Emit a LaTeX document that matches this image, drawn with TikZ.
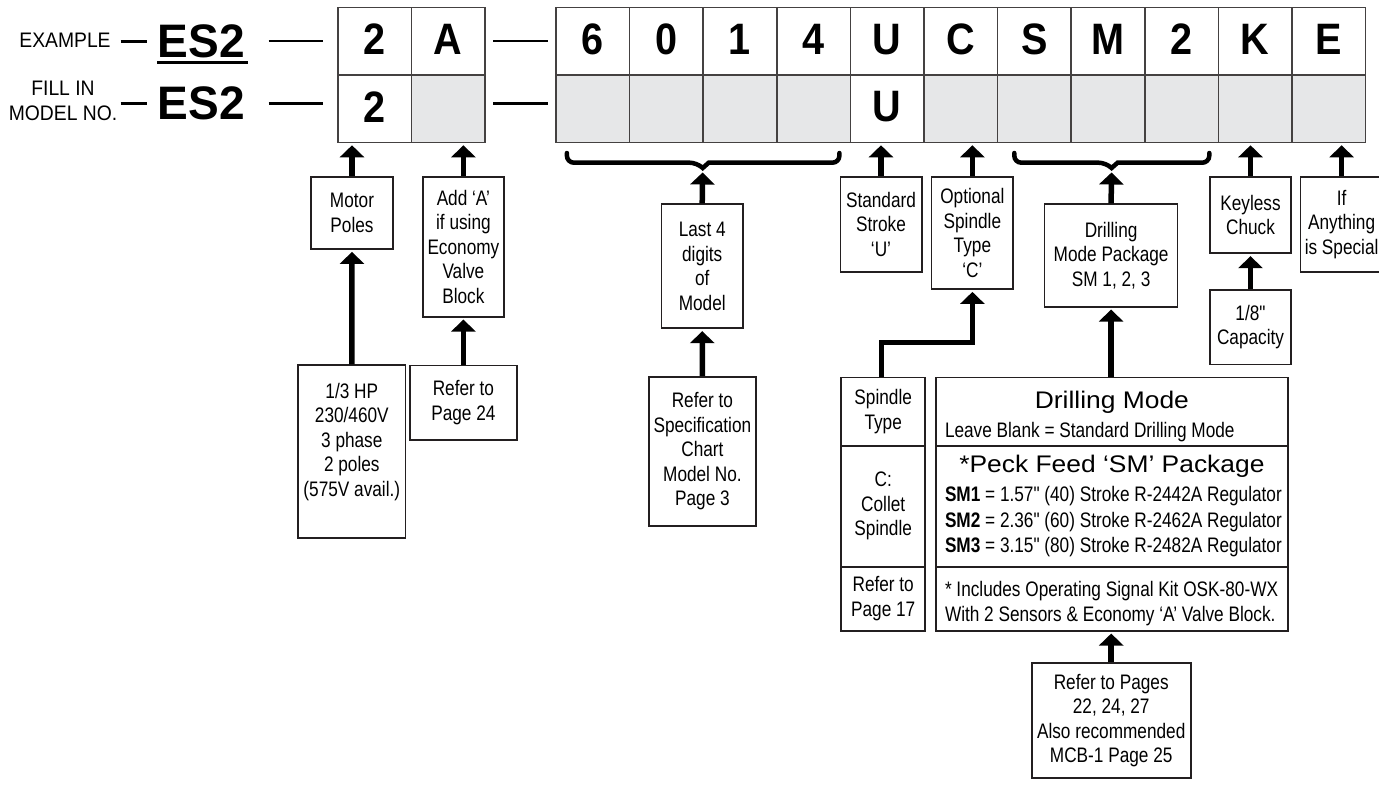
\documentclass[tikz,border=0pt]{standalone}
\usepackage{fontspec}
\setmainfont{Liberation Sans}
\newfontfamily\bodyfont[FakeStretch=0.82,Ligatures=TeXOff]{Liberation Sans}
\newfontfamily\titlefont[FakeStretch=1.1,Ligatures=TeXOff]{Liberation Sans}
\newfontfamily\heavyfont[FakeStretch=0.9]{Liberation Sans}
\newfontfamily\esfont[FakeStretch=0.98]{Liberation Sans}
\newfontfamily\labelfont[FakeStretch=0.92]{Liberation Sans}
\usetikzlibrary{arrows.meta}
\definecolor{cellgray}{HTML}{E6E7E8}
\definecolor{ink}{HTML}{231F20}
\tikzset{
  box/.style={draw=ink, line width=1.7pt, inner sep=0pt, align=center,
    font=\bodyfont\fontsize{21}{24.5}\selectfont},
  txt/.style={inner sep=0pt, align=center, font=\bodyfont\fontsize{21}{24.5}\selectfont},
  ttl/.style={inner sep=0pt, font=\titlefont\fontsize{24}{28}\selectfont},
  lab/.style={inner sep=0pt, align=center, font=\labelfont\fontsize{21}{25}\selectfont},
  big/.style={inner sep=0pt, font=\esfont\bfseries\fontsize{47}{47}\selectfont},
  cell/.style={draw=ink!85, line width=1.6pt, minimum width=73.6pt, minimum height=67.5pt,
    inner sep=0pt, font=\heavyfont\bfseries\fontsize{44}{44}\selectfont},
  arr/.style={line width=5.5pt, -{Triangle[width=24pt,length=12pt]}, shorten >=2pt},
  dashline/.style={line width=2.7pt},
  braceline/.style={line width=4.5pt, line cap=round},
}
\begin{document}
\begin{tikzpicture}[x=1pt,y=-1pt,line join=miter]
\useasboundingbox (0,0) rectangle (1379,785);

% left labels
\node[lab] (ex) at (65,40.5) {EXAMPLE};
\node[lab] (fill) at (63,100.8) {FILL IN\\MODEL NO.};
\node[big] (es1) at (201.5,41.7) {ES2};
\node[big] (es2) at (201.5,103.5) {ES2};
\coordinate (ul1) at (157.3,62.7); \coordinate (ul2) at (248.3,62.7);
\draw[line width=3pt] (ul1) -- (ul2);
\coordinate (sd1a) at (120.7,41.7); \coordinate (sd1b) at (146.7,41.7);
\coordinate (sd2a) at (120.7,103.3); \coordinate (sd2b) at (146.7,103.3);
\draw[dashline] (sd1a) -- (sd1b);
\draw[dashline] (sd2a) -- (sd2b);
\coordinate (ld1a) at (268.6,41); \coordinate (ld1b) at (323.2,41);
\coordinate (ld2a) at (268.6,103.3); \coordinate (ld2b) at (323.2,103.3);
\coordinate (ld3a) at (493,41); \coordinate (ld3b) at (548,41);
\coordinate (ld4a) at (493,103.3); \coordinate (ld4b) at (548,103.3);
\draw[dashline] (ld1a) -- (ld1b);
\draw[dashline] (ld2a) -- (ld2b);
\draw[dashline] (ld3a) -- (ld3b);
\draw[dashline] (ld4a) -- (ld4b);

% cells, first group
\node[cell] (p0) at (374.5,41.25) {\raisebox{4pt}{2}};
\node[cell] (p1) at (448.1,41.25) {\raisebox{4pt}{A}};
\node[cell, fill=white] (q0) at (374.5,108.75) {\raisebox{4pt}{2}};
\node[cell, fill=cellgray] (q1) at (448.1,108.75) {};
% cells, second group
\foreach \ch [count=\i from 0] in {6,0,1,4,U,C,S,M,2,K,E}
  \node[cell] (r\i) at ({556+73.6*(\i+0.5)},41.25) {\raisebox{4pt}{\ch}};
\foreach \f/\t [count=\i from 0] in {cellgray/,cellgray/,cellgray/,cellgray/,white/U,cellgray/,cellgray/,cellgray/,cellgray/,cellgray/,cellgray/}
  \node[cell, fill=\f] (s\i) at ({556+73.6*(\i+0.5)},108.75) {\raisebox{4pt}{\t}};

% braces
\coordinate (b1) at (702.7,168);
\coordinate (b2) at (1111.6,168);
\draw[braceline] (566.9,153) [rounded corners=7pt] |- (696.7,162.7) [sharp corners] -- (b1) -- (708.7,162.7) [rounded corners=7pt] -| (839.4,153);
\draw[braceline] (1014.3,153) [rounded corners=7pt] |- (1105.6,162.7) [sharp corners] -- (b2) -- (1117.6,162.7) [rounded corners=7pt] -| (1209.3,153);

% boxes
\node[box, minimum width=81.5pt, minimum height=72.3pt] (mp) at (352,212.9) {Motor\\Poles};
\node[box, minimum width=81.5pt, minimum height=140pt] (aa) at (463.4,246.7) {Add ‘A’\\if using\\Economy\\Valve\\Block};
\node[box, minimum width=106.7pt, minimum height=74.7pt] (r24) at (463.4,402.7) {Refer to\\Page 24};
\node[box, minimum width=107.2pt, minimum height=173pt] (hp) at (351.8,451.8) {};
\node[txt] (hpt) at (351.8,442) {1/3 HP\\230/460V\\3 phase\\2 poles\\(575V avail.)};
\node[box, minimum width=81.5pt, minimum height=124pt] (l4) at (702.2,266.3) {Last 4\\digits\\of\\Model};
\node[box, minimum width=107.2pt, minimum height=149.3pt] (rs) at (702.4,451.4) {Refer to\\Specification\\Chart\\Model No.\\Page 3};
\node[box, minimum width=81.3pt, minimum height=95pt] (ss) at (881,224.2) {Standard\\Stroke\\‘U’};
\node[box, minimum width=81.6pt, minimum height=112.3pt] (os) at (972.4,232.9) {Optional\\Spindle\\Type\\‘C’};
\node[box, minimum width=133pt, minimum height=102.4pt] (dmp) at (1111.1,255.5) {Drilling\\Mode Package\\SM 1, 2, 3};
\node[box, minimum width=81.6pt, minimum height=76.6pt] (kc) at (1250.5,215) {Keyless\\Chuck};
\node[box, minimum width=81.6pt, minimum height=74.3pt] (cap) at (1250.5,327.2) {1/8"\\Capacity};
\node[box, minimum width=82pt, minimum height=95pt] (ia) at (1341.6,224.2) {If\\Anything\\is Special};

% spindle table
\node[box, minimum width=84pt, minimum height=68.7pt] (sp1) at (883.2,411.7) {Spindle\\Type};
\node[box, minimum width=84pt, minimum height=120.7pt] (sp2) at (883.2,506.3) {C:\\Collet\\Spindle};
\node[box, minimum width=84pt, minimum height=64pt] (sp3) at (883.2,598.7) {Refer to\\Page 17};

% drilling mode table
\node[box, minimum width=351.9pt, minimum height=68.7pt] (dm1) at (1112.05,411.7) {};
\node[box, minimum width=351.9pt, minimum height=120.7pt] (dm2) at (1112.05,506.3) {};
\node[box, minimum width=351.9pt, minimum height=64pt] (dm3) at (1112.05,598.7) {};
\node[ttl, anchor=base] (dmt) at (1111.9,408) {Drilling Mode};
\node[txt, anchor=base west] (dml) at (944.8,437) {Leave Blank = Standard Drilling Mode};
\node[ttl, anchor=base] (pft) at (1111.9,472) {*Peck Feed ‘SM’ Package};
\node[txt, anchor=base west] (sm1) at (944.8,501.8) {\textbf{SM1} = 1.57" (40) Stroke R-2442A Regulator};
\node[txt, anchor=base west] (sm2) at (944.8,527.1) {\textbf{SM2} = 2.36" (60) Stroke R-2462A Regulator};
\node[txt, anchor=base west] (sm3) at (944.8,552.5) {\textbf{SM3} = 3.15" (80) Stroke R-2482A Regulator};
\node[txt, anchor=base west] (inc1) at (944.8,596.8) {* Includes Operating Signal Kit OSK-80-WX};
\node[txt, anchor=base west] (inc2) at (944.8,621.1) {With 2 Sensors \& Economy ‘A’ Valve Block.};

\node[box, minimum width=159pt, minimum height=115pt] (rp) at (1111.2,720.8) {Refer to Pages\\22, 24, 27\\Also recommended\\MCB-1 Page 25};

% arrows
\draw[arr] (mp.north) -- (mp.north |- q0.south);
\draw[arr] (aa.north) -- (aa.north |- q1.south);
\draw[arr] (hp.north) -- (mp.south);
\draw[arr] (r24.north) -- (aa.south);
\draw[arr, shorten >=4.5pt] (l4.north) -- (b1);
\draw[arr] (rs.north) -- (l4.south);
\draw[arr] (ss.north) -- (ss.north |- s4.south);
\draw[arr] (os.north) -- (os.north |- s5.south);
\draw[arr, shorten >=4.5pt] (dmp.north) -- (b2);
\draw[arr] (kc.north) -- (kc.north |- s9.south);
\draw[arr] (ia.north) -- (ia.north |- s10.south);
\draw[arr] (cap.north) -- (kc.south);
\draw[arr] (dm1.north -| dmp.south) -- (dmp.south);
\draw[arr] (rp.north) -- (rp.north |- dm3.south);
\draw[arr] (sp1.north -| 881.3,0) -- (881.3,342.5) -| (os.south);
\end{tikzpicture}
\end{document}
